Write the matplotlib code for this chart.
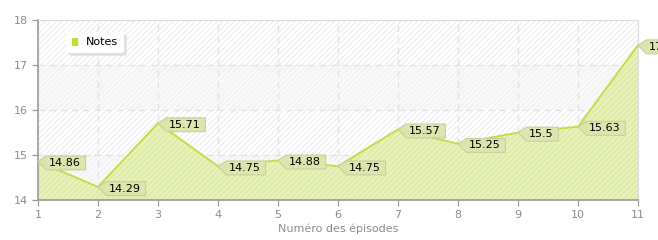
import matplotlib
matplotlib.use("Agg")
from matplotlib import pyplot as plt
from matplotlib import transforms as mtransforms
from matplotlib.patches import Polygon, Rectangle

# data
episodes = [1, 2, 3, 4, 5, 6, 7, 8, 9, 10, 11]
notes = [14.86, 14.29, 15.71, 14.75, 14.88, 14.75, 15.57, 15.25, 15.5, 15.63, 17.44]
y_ticks = [14, 15, 16, 17, 18]

LINE = "#c3dc3c"
FILL = "#e6f0b9"
LABEL_FILL = "#dde4ad"
LABEL_EDGE = "#c9d19a"
AXIS_GREY = "#999999"
TEXT_GREY = "#8c8c8c"

plt.rcParams["hatch.color"] = "#e8e8e8"
plt.rcParams["hatch.linewidth"] = 0.6

fig = plt.figure(figsize=(6.58, 2.4), dpi=100)
ax = fig.add_axes([38 / 658, 40 / 240, 600 / 658, 180 / 240])
ax.set_xlim(episodes[0], episodes[-1])
ax.set_ylim(y_ticks[0], y_ticks[-1])

# striped background with alternating bands
ax.add_patch(Rectangle((0, 0), 1, 1, transform=ax.transAxes, facecolor="white",
                       hatch="//////", edgecolor="#e8e8e8", lw=0, zorder=0))
for lo in y_ticks[::2][:-1]:
    ax.axhspan(lo, lo + 1, color="#f4f4f4", alpha=0.6, lw=0, zorder=0.5)

ax.grid(True, color="#e2e2e2", linestyle=(0, (5, 4)), lw=0.9, zorder=1)

ax.fill_between(episodes, notes, y_ticks[0], facecolor=FILL, edgecolor="#d8e69a",
                hatch="//////", lw=0, zorder=2)
ax.plot(episodes, notes, color=LINE, lw=1.3, zorder=3)

ax.set_xticks(episodes)
ax.set_yticks(y_ticks)
ax.tick_params(colors=AXIS_GREY, labelcolor=TEXT_GREY, labelsize=8, length=4, width=0.9)
for side in ("left", "bottom"):
    ax.spines[side].set_color(AXIS_GREY)
    ax.spines[side].set_linewidth(1.2)
for side in ("top", "right"):
    ax.spines[side].set_color("#dddddd")
ax.set_xlabel("Numéro des épisodes", color=TEXT_GREY, fontsize=8, labelpad=2)

# callout labels pointing at each point
fig.canvas.draw()
renderer = fig.canvas.get_renderer()
px = fig.dpi / 72.0
for x, y in zip(episodes, notes):
    anchor = mtransforms.ScaledTranslation(x, y, ax.transData)
    to_disp = mtransforms.Affine2D().scale(px) + anchor
    t = ax.text(7.8, -1.2, f"{y:g}", fontsize=8, color="black", va="center", ha="left",
                transform=to_disp, zorder=6, clip_on=False)
    w = t.get_window_extent(renderer).width / px
    left, right, top, bot = 6, 7.8 + w + 3.5, 3.8, -6.2
    poly = Polygon([(0, 0), (left, top), (right, top), (right, bot), (left, bot)],
                   closed=True, facecolor=LABEL_FILL, edgecolor=LABEL_EDGE, lw=0.8,
                   transform=to_disp, zorder=5, clip_on=False)
    ax.add_patch(poly)

# legend box
leg = ax.legend([Rectangle((0, 0), 1, 1, color=LINE)], ["Notes"], loc="upper left",
                bbox_to_anchor=(0.038, 0.965), fontsize=8, frameon=True, fancybox=True,
                handlelength=0.5, handleheight=0.5, handletextpad=0.8,
                borderpad=0.5, shadow={"color": "#e0e0e0", "alpha": 1})
leg.get_frame().set_edgecolor("white")
leg.get_frame().set_linewidth(0)
leg.set_zorder(7)

fig.savefig("out.png", dpi=100)
